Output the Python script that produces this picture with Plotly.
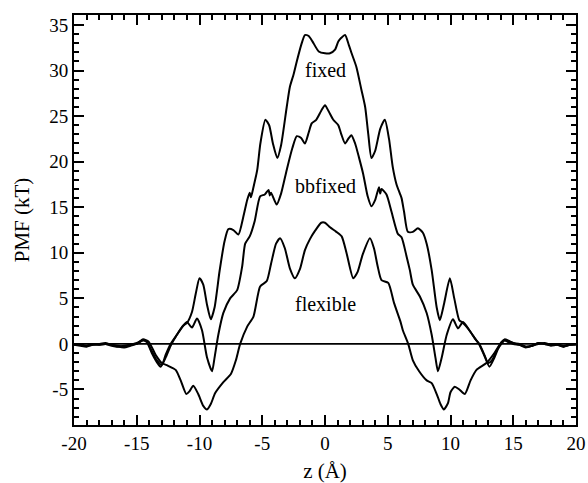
import plotly.graph_objects as go

# ---- data ----
fixed_x = [-20, -19.5, -19, -18.5, -18, -17.5, -17, -16.5, -16, -15.5, -15, -14.5, -14.2, -13.8, -13.4, -13.0,
           -12.7, -12.3, -11.8, -11.3, -11.0, -10.6, -10.3, -10.0, -9.7, -9.4, -9.1, -8.8, -8.4, -8.0, -7.7,
           -7.3, -6.9, -6.5, -6.2, -6.0, -5.9, -5.7, -5.4, -5.15, -4.75, -4.45, -4.15, -3.8, -3.5, -3.05, -2.8,
           -2.5, -2.25, -1.9, -1.6, -1.3, -1.0, -0.5, 0.0, 0.4, 0.8, 1.06, 1.3, 1.6, 1.9, 2.12, 2.5, 2.9, 3.2,
           3.45, 3.7, 4.0, 4.4, 4.77, 5.1, 5.4, 5.7, 5.97, 6.1, 6.3, 6.6, 7.0, 7.4, 7.8, 8.1, 8.5, 8.9, 9.15,
           9.5, 9.95, 10.3, 10.7, 11.0, 11.5, 12.0, 12.3, 12.7, 13.0, 13.3, 13.7, 14.0, 14.3, 14.6, 15, 15.5,
           16, 16.5, 17, 17.5, 18, 18.5, 19, 19.5, 20]
fixed_y = [-0.1, -0.2, -0.3, -0.1, -0.1, 0.0, -0.2, -0.3, -0.2, -0.1, 0.0, 0.4, 0.3, -0.8, -1.8, -2.3,
           -1.2, 0.0, 1.0, 2.0, 2.3, 3.5, 5.5, 7.2, 6.5, 4.3, 2.7, 4.0, 8.0, 11.3, 12.6,
           12.5, 12.0, 14.0, 15.8, 16.6, 16.1, 17.2, 19.1, 22.0, 24.6, 24.0, 22.0, 20.4, 21.8, 26.0, 28.2,
           29.6, 31.0, 32.8, 33.9, 33.8, 33.2, 32.1, 31.9, 31.9, 32.3, 33.2, 33.6, 33.9, 32.8, 31.9, 30.4, 27.9, 26.0,
           23.0, 20.4, 21.2, 23.6, 24.6, 22.5, 19.4, 17.5, 16.5, 16.0, 14.5, 12.3, 12.3, 12.7, 12.2, 11.0, 8.1, 4.0, 2.6,
           4.5, 7.2, 5.0, 2.6, 2.3, 1.5, 0.5, 0.0, -1.2, -2.1, -1.8, -0.7, 0.0, 0.4, 0.3, 0.1, 0.0,
           -0.3, -0.2, 0.0, 0.1, -0.1, -0.1, -0.2, -0.1, 0.0]

bbfixed_x = [-20, -19.5, -19, -18.5, -18, -17.5, -17, -16.5, -16, -15.5, -15, -14.5, -14.2, -13.8, -13.4, -13.1,
             -12.7, -12.3, -11.8, -11.3, -11.0, -10.6, -10.2, -9.8, -9.4, -9.0, -8.8, -8.5, -8.1, -7.56, -7.0,
             -6.6, -6.36, -6.0, -5.6, -5.17, -4.8, -4.5, -4.4, -4.3, -3.85, -3.5, -3.05, -2.6, -2.25, -1.9, -1.6,
             -1.3, -1.06, -0.7, -0.3, 0.0, 0.3, 0.66, 1.06, 1.3, 1.6, 1.85, 2.1, 2.4, 2.7, 3.05, 3.4, 3.7, 4.0,
             4.3, 4.4, 4.5, 4.9, 5.3, 5.8, 6.1, 6.5, 6.76, 7.0, 7.56, 8.1, 8.5, 8.8, 9.0, 9.3, 9.7, 10.2, 10.6,
             11.0, 11.5, 12.0, 12.3, 12.7, 13.1, 13.5, 13.8, 14.05, 14.3, 14.6, 15, 15.5, 16, 16.5, 17, 17.5,
             18, 18.5, 19, 19.5, 20]
bbfixed_y = [0.0, -0.1, -0.2, -0.1, 0.0, 0.1, -0.1, -0.2, -0.3, -0.1, 0.1, 0.4, 0.2, -1.0, -2.0, -2.5,
             -1.5, -0.2, 1.0, 2.0, 2.4, 1.8, 2.8, 1.5, -1.5, -3.0, -1.5, 1.0, 3.4, 5.0, 5.9,
             8.5, 11.0, 11.8, 13.5, 16.2, 16.4, 16.9, 16.3, 16.6, 15.3, 16.5, 19.1, 21.5, 22.8, 22.6, 22.0,
             23.2, 24.2, 24.6, 25.6, 26.2, 25.5, 24.6, 24.0, 23.0, 22.0, 22.5, 22.9, 22.0, 20.5, 18.6, 16.2, 15.1, 15.8,
             17.2, 16.5, 17.0, 16.4, 14.5, 12.1, 11.7, 9.6, 8.1, 6.5, 5.2, 3.4, 1.0, -1.5, -3.0, -1.5, 1.0, 2.7, 1.7,
             2.4, 1.5, 0.5, -0.1, -1.3, -2.5, -1.5, -0.5, 0.0, 0.4, 0.2, 0.0, -0.1, -0.3, -0.2, 0.1, 0.0,
             -0.2, -0.1, -0.3, -0.1, 0.0]

flexible_x = [-20, -19.5, -19, -18.5, -18, -17.5, -17, -16.5, -16, -15.5, -15, -14.5, -14.05, -13.5, -13.0, -12.5,
              -11.9, -11.5, -11.05, -10.8, -10.5, -10.1, -9.7, -9.4, -9.1, -8.75, -8.1, -7.5, -7.1, -6.76, -6.2,
              -5.7, -5.17, -4.64, -4.3, -3.9, -3.58, -3.2, -2.8, -2.4, -2.0, -1.6, -1.2, -0.8, -0.3, 0.0, 0.4,
              0.9, 1.33, 1.73, 2.25, 2.6, 3.0, 3.58, 3.9, 4.2, 4.5, 5.04, 5.5, 6.0, 6.2, 6.63, 7.0, 7.5, 8.1,
              8.5, 8.9, 9.2, 9.47, 9.8, 10.0, 10.34, 10.7, 11.14, 11.6, 12.07, 12.86, 13.5, 14.05, 14.3, 14.7,
              15.2, 15.5, 16, 16.5, 17, 17.5, 18, 18.5, 19, 19.5, 20]
flexible_y = [-0.1, -0.1, -0.2, 0.0, -0.1, 0.0, -0.1, -0.3, -0.4, -0.2, 0.0, 0.5, 0.25, -1.2, -2.1, -2.4,
              -2.85, -4.0, -5.5, -5.2, -4.6, -5.5, -6.8, -7.2, -6.6, -5.4, -4.2, -3.3, -1.8, 0.0, 1.9,
              3.0, 6.3, 6.9, 8.8, 11.0, 11.6, 10.5, 8.3, 7.2, 8.2, 10.3, 11.5, 12.4, 13.3, 13.3, 12.8,
              12.3, 11.8, 9.9, 7.2, 7.9, 9.8, 11.6, 10.5, 8.5, 7.0, 6.7, 4.5, 2.5, 1.5, 0.0, -1.8, -3.0, -4.0,
              -4.3, -5.5, -6.6, -7.2, -6.5, -5.3, -4.7, -5.0, -5.5, -4.0, -2.85, -2.1, -1.0, 0.2, 0.5, 0.3,
              0.0, -0.1, -0.4, -0.2, 0.1, 0.0, -0.1, 0.0, -0.3, -0.1, -0.1]

zero_x = [-20, 20]
zero_y = [0, 0]

labels = ["fixed", "bbfixed", "flexible"]
label_x = [0, 0, 0]
label_y = [30.1, 17.3, 4.4]

x_ticks = [-20, -15, -10, -5, 0, 5, 10, 15, 20]
y_ticks = [-5, 0, 5, 10, 15, 20, 25, 30, 35]
x_range = [-20, 20]
y_range = [-8.9, 36.1]

FONT = "Liberation Serif"

fig = go.Figure()
line = dict(color="black", width=2, shape="spline", smoothing=0.6)
for xs, ys, nm in [(fixed_x, fixed_y, "fixed"), (bbfixed_x, bbfixed_y, "bbfixed"),
                   (flexible_x, flexible_y, "flexible")]:
    fig.add_trace(go.Scatter(x=xs, y=ys, mode="lines", name=nm, line=line, showlegend=False))
# zero reference line, drawn on the mirrored (top/right) axes so that those axes get rendered
fig.add_trace(go.Scatter(x=zero_x, y=zero_y, mode="lines", line=dict(color="black", width=1.8),
                         xaxis="x2", yaxis="y2", showlegend=False, hoverinfo="skip"))

for t, xx, yy in zip(labels, label_x, label_y):
    fig.add_annotation(x=xx, y=yy, text=t, showarrow=False,
                       font=dict(family=FONT, size=20, color="black"))

axis_common = dict(showgrid=False, zeroline=False, showline=True, linecolor="black", linewidth=2,
                   ticks="inside", ticklen=10, tickwidth=2, tickcolor="black",
                   automargin=False,
                   tickfont=dict(family=FONT, size=19, color="black"),
                   minor=dict(ticks="inside", ticklen=5, tickwidth=1.8, tickcolor="black",
                              tickmode="linear", tick0=0, dtick=1, showgrid=False))

fig.update_layout(
    width=588, height=483,
    margin=dict(l=74, r=12, t=15, b=58),
    paper_bgcolor="white", plot_bgcolor="white",
    xaxis=dict(range=x_range, tickmode="array", tickvals=x_ticks, ticktext=[str(v) for v in x_ticks],
               title=dict(text="z (Å)", font=dict(family=FONT, size=21, color="black"), standoff=13),
               **axis_common),
    yaxis=dict(range=y_range, tickmode="array", tickvals=y_ticks, ticktext=[str(v) for v in y_ticks],
               title=dict(text="PMF (kT)", font=dict(family=FONT, size=21, color="black"), standoff=14),
               **axis_common),
    xaxis2=dict(range=x_range, tickmode="array", tickvals=x_ticks, overlaying="x", side="top",
                showticklabels=False, **axis_common),
    yaxis2=dict(range=y_range, tickmode="array", tickvals=y_ticks, overlaying="y", side="right",
                showticklabels=False, **axis_common),
)

fig.write_html("out.html", config={"displayModeBar": False},
               post_script="document.body.style.margin='0';document.body.style.overflow='hidden';")
